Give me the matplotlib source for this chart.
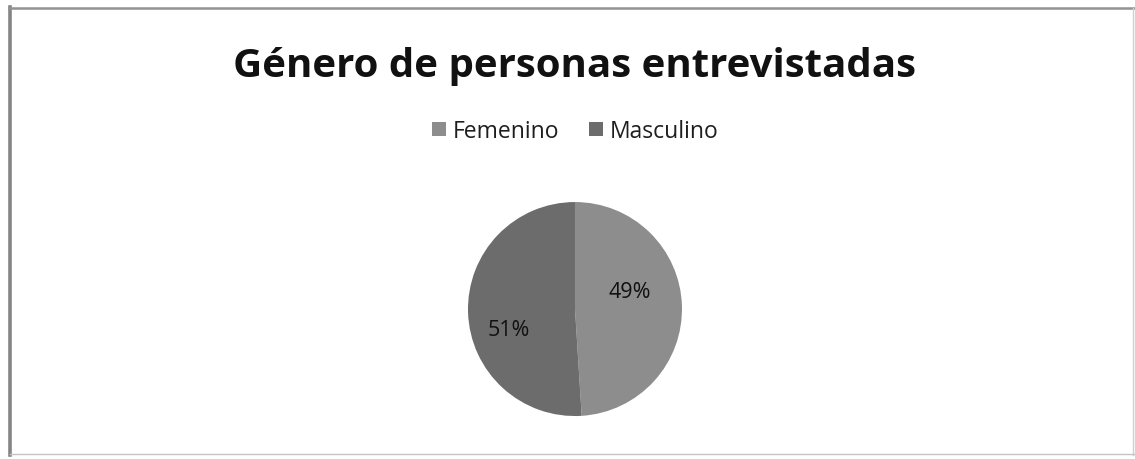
import matplotlib
matplotlib.use("Agg")
from matplotlib import pyplot as plt
from matplotlib.lines import Line2D

categories = ["Femenino", "Masculino"]
shares = [49, 51]
colors = ["#8d8d8d", "#6c6c6c"]

plt.rcParams["font.family"] = ["Open Sans", "DejaVu Sans"]


def edge(fig, xs, ys, color, lw):
    fig.lines.append(Line2D([x / 1135 for x in xs], [1 - y / 460 for y in ys],
                            transform=fig.transFigure, color=color, linewidth=lw))


def main():
    fig = plt.figure(figsize=(11.35, 4.6), dpi=100)
    fig.patch.set_facecolor("white")

    # chart frame, scanned look: heavier on the left and top
    edge(fig, [10, 10], [8, 456], "#858585", 2.6)
    edge(fig, [9, 1134], [9, 9], "#939393", 1.8)
    edge(fig, [1133, 1133], [9, 456], "#cfcfcf", 1.0)
    edge(fig, [10, 1134], [455, 455], "#c4c4c4", 1.0)

    fig.text(0.5066, 1 - 66 / 460, "Género de personas entrevistadas",
             ha="center", va="center", fontsize=29, fontweight="bold", color="#111111")

    ax = fig.add_axes([0.5066 - 0.0943, 0.326 - 0.2326, 0.1886, 0.4652])
    wedges, texts, autotexts = ax.pie(shares, colors=colors, startangle=90,
                                      counterclock=False, autopct="%d%%",
                                      textprops={"fontsize": 15.5, "color": "#111111"},
                                      wedgeprops={"linewidth": 0})
    ax.set_xlim(-1, 1)
    ax.set_ylim(-1, 1)
    ax.set_aspect("equal")
    # label placement inside the slices
    autotexts[0].set_position((0.51, 0.16))
    autotexts[1].set_position((-0.62, -0.19))

    leg = fig.legend(wedges, categories, loc="center", bbox_to_anchor=(0.5066, 1 - 132 / 460),
                     ncol=2, frameon=False, fontsize=16.5, handlelength=0.6, handleheight=0.6,
                     handletextpad=0.3, columnspacing=1.3)
    for t in leg.get_texts():
        t.set_color("#1e1e1e")

    plt.savefig("out.png", dpi=100)
    plt.close()


if __name__ == "__main__":
    main()
